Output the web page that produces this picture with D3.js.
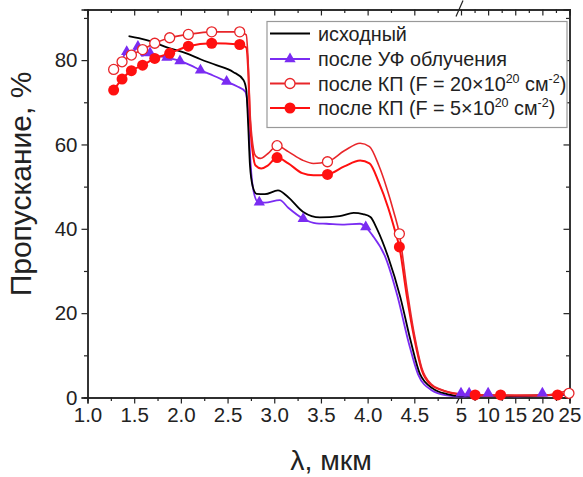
<!DOCTYPE html>
<html>
<head>
<meta charset="utf-8">
<script src="https://cdn.jsdelivr.net/npm/d3@7"></script>
<style>
  body { margin: 0; background: #fff; }
  text { font-family: "Liberation Sans", Arial, sans-serif; fill: #222; }
</style>
</head>
<body>
<svg id="chart" width="583" height="477"></svg>
<script>
// series: [lambda (мкм), transmission (%)]
var initialLine = [[1.44,85.7],[1.55,85.2],[1.70,84.3],[1.85,83.0],[2.06,81.6],[2.21,80.2],[2.38,78.8],[2.56,77.2],[2.67,75.3],[2.70,73],[2.72,65],[2.74,55],[2.77,50],[2.81,48.3],[2.90,48.2],[3.04,49.1],[3.15,47.5],[3.31,44.0],[3.49,42.7],[3.70,43.0],[3.85,43.8],[3.95,43.5],[4.03,42.8],[4.10,40],[4.22,33.3],[4.35,23.8],[4.46,13.5],[4.56,5.6],[4.70,2.1],[4.85,0.8],[5.0,0.3],[7,0.5],[10,0.5],[15,0.4],[20,0.5],[25,0.8]];

var uvLine = [[1.38,80.5],[1.42,82.0],[1.47,81],[1.54,83.6],[1.58,81],[1.67,81.7],[1.75,81],[1.85,80.6],[1.99,79.8],[2.10,78.8],[2.21,77.6],[2.35,76.3],[2.49,74.9],[2.60,73.8],[2.69,72.5],[2.72,68],[2.74,58],[2.77,50],[2.82,46.5],[2.90,46.2],[3.06,46.8],[3.15,45],[3.31,42.4],[3.45,41.3],[3.56,41.2],[3.75,41.0],[3.92,41.2],[3.98,40.4],[4.05,38.5],[4.19,33.3],[4.32,24],[4.44,13],[4.54,5.5],[4.68,1.8],[4.85,0.5],[5.0,0.2],[7,0.4],[10,0.4],[15,0.3],[20,0.5],[25,0.6]];
var uvMarks = [[1.42,82.0],[1.54,83.2],[1.67,81.7],[1.85,80.6],[1.99,79.8],[2.21,77.6],[2.49,74.9],[2.84,46.3],[3.31,42.4],[3.98,40.4],[5.0,1.0],[6.5,1.0],[10,1.0],[20,1.0]];

var kp20Line = [[1.28,77.8],[1.37,79.6],[1.47,81.2],[1.59,82.5],[1.72,84.0],[1.88,85.3],[2.08,86.1],[2.33,86.7],[2.63,86.7],[2.70,86],[2.72,80],[2.74,68],[2.77,60],[2.80,57.3],[2.85,56.7],[2.93,57.8],[3.03,59.7],[3.15,58.3],[3.30,56.3],[3.42,55.5],[3.57,55.9],[3.75,58.5],[3.92,60.3],[4.02,59.5],[4.12,55],[4.20,50],[4.28,44],[4.34,38.8],[4.42,26],[4.50,15],[4.58,7],[4.68,3.2],[4.80,1.8],[5.0,0.8],[7,0.6],[10,0.6],[15,0.5],[20,0.5],[25,1.8]];
var kp20Marks = [[1.28,77.8],[1.37,79.6],[1.47,81.2],[1.59,82.5],[1.72,84.0],[1.88,85.3],[2.08,86.1],[2.33,86.7],[2.63,86.7],[3.03,59.7],[3.57,55.9],[4.34,38.8],[24.9,1.0]];

var kp5Line = [[1.28,72.9],[1.37,75.5],[1.47,77.5],[1.59,78.8],[1.72,80.4],[1.88,81.6],[2.08,83.3],[2.33,84.0],[2.63,83.7],[2.70,83],[2.72,78],[2.74,66],[2.77,58],[2.80,55],[2.86,54.3],[2.93,55],[3.03,56.9],[3.15,55.5],[3.30,53.2],[3.42,52.7],[3.57,52.9],[3.75,54.8],[3.92,56.2],[4.02,55.5],[4.12,51],[4.22,45],[4.30,39],[4.34,35.7],[4.42,24],[4.50,14],[4.58,6.5],[4.68,3],[4.80,1.7],[5.0,0.7],[7,0.6],[10,0.5],[15,0.5],[20,0.5],[25,1.0]];
var kp5Marks = [[1.28,72.9],[1.37,75.5],[1.47,77.5],[1.59,78.8],[1.72,80.4],[1.88,81.6],[2.08,83.3],[2.33,84.0],[2.63,83.7],[3.03,56.9],[3.57,52.9],[4.34,35.7],[7.6,0.6],[12.3,0.6],[22.8,0.6]];

var xMajor = [1.0,1.5,2.0,2.5,3.0,3.5,4.0,4.5,5,10,15,20,25];
var xMinor = [1.25,1.75,2.25,2.75,3.25,3.75,4.25,4.75,7.5,12.5,17.5,22.5];
var yMajor = [0,20,40,60,80];
var yMinor = [10,30,50,70,90];
var xBreak = 5;

var svg = d3.select("#chart");
var pLeft = 87.5, pRight = 569.5, pTop = 9.5, pBottom = 397.5;

// broken axis: 1..5 linear, then 5..25 compressed
var x = d3.scaleLinear().domain([1, 5, 25]).range([pLeft, 461, pRight]);
var y = d3.scaleLinear().domain([0, 92]).range([pBottom, pTop]);

function styleAxis(g) {
  g.select(".domain").attr("stroke", "#222").attr("stroke-width", 1.4);
  g.selectAll(".tick line").attr("stroke", "#222").attr("stroke-width", 1.2);
  g.selectAll(".tick text").style("font-size", "20.5px").attr("fill", "#222");
}

// bottom
svg.append("g").attr("transform", "translate(0," + pBottom + ")")
  .call(d3.axisBottom(x).tickValues(xMajor).tickSizeOuter(0).tickSize(6).tickPadding(4)
    .tickFormat(function(d){ return d < 5 ? d.toFixed(1) : d; }))
  .call(styleAxis);
svg.append("g").attr("transform", "translate(0," + pBottom + ")")
  .call(d3.axisBottom(x).tickValues(xMinor).tickSizeOuter(0).tickSize(3.5).tickFormat(""))
  .call(styleAxis);
// top
svg.append("g").attr("transform", "translate(0," + pTop + ")")
  .call(d3.axisTop(x).tickValues(xMajor).tickSizeOuter(0).tickSize(-6).tickFormat(""))
  .call(styleAxis);
svg.append("g").attr("transform", "translate(0," + pTop + ")")
  .call(d3.axisTop(x).tickValues(xMinor).tickSizeOuter(0).tickSize(-3.5).tickFormat(""))
  .call(styleAxis);
// left
svg.append("g").attr("transform", "translate(" + pLeft + ",0)")
  .call(d3.axisLeft(y).tickValues(yMajor).tickSizeOuter(0).tickSize(6).tickPadding(4))
  .call(styleAxis);
svg.append("g").attr("transform", "translate(" + pLeft + ",0)")
  .call(d3.axisLeft(y).tickValues(yMinor).tickSizeOuter(0).tickSize(3.5).tickFormat(""))
  .call(styleAxis);
// right
svg.append("g").attr("transform", "translate(" + pRight + ",0)")
  .call(d3.axisRight(y).tickValues(yMajor).tickSizeOuter(0).tickSize(-6).tickFormat(""))
  .call(styleAxis);
svg.append("g").attr("transform", "translate(" + pRight + ",0)")
  .call(d3.axisRight(y).tickValues(yMinor).tickSizeOuter(0).tickSize(-3.5).tickFormat(""))
  .call(styleAxis);

// break marks
var bx = x(xBreak);
svg.append("line").attr("x1", bx - 5).attr("y1", pTop + 7).attr("x2", bx + 2).attr("y2", pTop - 9)
  .attr("stroke", "#222").attr("stroke-width", 1.2);
svg.append("line").attr("x1", bx - 4.5).attr("y1", pBottom + 6).attr("x2", bx + 1).attr("y2", pBottom - 5)
  .attr("stroke", "#222").attr("stroke-width", 1.2);

// axis titles
svg.append("text")
  .attr("transform", "translate(31,184) rotate(-90)")
  .attr("text-anchor", "middle")
  .style("font-size", "30px")
  .text("Пропускание, %");
svg.append("text")
  .attr("x", 331).attr("y", 470)
  .attr("text-anchor", "middle")
  .style("font-size", "28.5px")
  .text("λ, мкм");

var line = d3.line()
  .x(function(d){ return x(d[0]); })
  .y(function(d){ return y(d[1]); })
  .curve(d3.curveMonotoneX);

var purple = "#7a2cf2", red = "#ff1010", red2 = "#e8262a";

var plot = svg.append("g");

plot.append("path").datum(uvLine).attr("d", line)
  .attr("fill", "none").attr("stroke", purple).attr("stroke-width", 1.8);
plot.append("path").datum(initialLine).attr("d", line)
  .attr("fill", "none").attr("stroke", "#000").attr("stroke-width", 1.8);
plot.append("path").datum(kp5Line).attr("d", line)
  .attr("fill", "none").attr("stroke", red).attr("stroke-width", 2);
plot.append("path").datum(kp20Line).attr("d", line)
  .attr("fill", "none").attr("stroke", red2).attr("stroke-width", 1.6);

var tri = d3.symbol().type(d3.symbolTriangle).size(55);

plot.selectAll(".uv").data(uvMarks).enter().append("path")
  .attr("class", "uv")
  .attr("transform", function(d){ return "translate(" + x(d[0]) + "," + y(d[1]) + ")"; })
  .attr("d", tri).attr("fill", purple);

plot.selectAll(".kp5").data(kp5Marks).enter().append("circle")
  .attr("class", "kp5")
  .attr("cx", function(d){ return x(d[0]); })
  .attr("cy", function(d){ return y(d[1]); })
  .attr("r", 5.5).attr("fill", red);

plot.selectAll(".kp20").data(kp20Marks).enter().append("circle")
  .attr("class", "kp20")
  .attr("cx", function(d){ return x(d[0]); })
  .attr("cy", function(d){ return y(d[1]); })
  .attr("r", 5).attr("fill", "#fff").attr("stroke", red2).attr("stroke-width", 1.3);

// legend
var lg = svg.append("g");
lg.append("rect").attr("x", 267).attr("y", 21.5).attr("width", 300).attr("height", 106)
  .attr("fill", "#fff").attr("stroke", "#999").attr("stroke-width", 1.2);

var rows = [
  {color: "#000", mark: null, text: ["исходный"]},
  {color: purple, mark: "tri", text: ["после УФ облучения"]},
  {color: red2, mark: "open", text: ["после КП (F = 20×10", "20", " см", "-2", ")"]},
  {color: red, mark: "fill", text: ["после КП (F = 5×10", "20", " см", "-2", ")"]}
];
var rowY = [33.5, 59, 83.5, 108];

rows.forEach(function(r, i) {
  var cy = rowY[i];
  lg.append("line").attr("x1", 270).attr("x2", 310).attr("y1", cy).attr("y2", cy)
    .attr("stroke", r.color).attr("stroke-width", 2);
  if (r.mark == "tri") {
    lg.append("path").attr("transform", "translate(290," + cy + ")").attr("d", tri).attr("fill", r.color);
  } else if (r.mark == "open") {
    lg.append("circle").attr("cx", 290).attr("cy", cy).attr("r", 5)
      .attr("fill", "#fff").attr("stroke", r.color).attr("stroke-width", 1.3);
  } else if (r.mark == "fill") {
    lg.append("circle").attr("cx", 290).attr("cy", cy).attr("r", 5.5).attr("fill", r.color);
  }
  var t = lg.append("text").attr("x", 318).attr("y", cy + 7).style("font-size", "19.8px");
  r.text.forEach(function(s, k) {
    var ts = t.append("tspan").text(s);
    if (k % 2 == 1) ts.style("font-size", "12.5px").attr("dy", -8);
    else if (k > 0) ts.attr("dy", 8);
  });
});
</script>
</body>
</html>
